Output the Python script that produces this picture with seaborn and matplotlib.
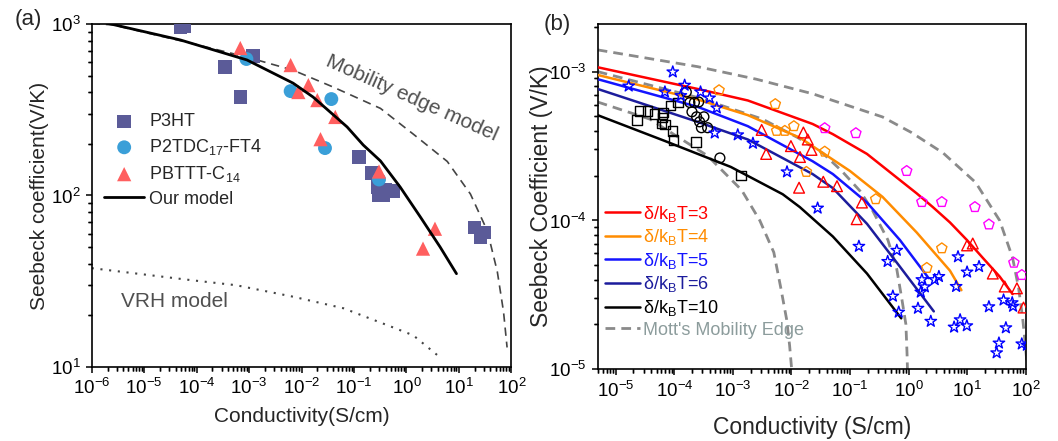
import matplotlib
matplotlib.use("Agg")
import numpy as np
import matplotlib.pyplot as plt
import matplotlib.ticker as mticker
import seaborn as sns

# ==========================================================
# DATA - panel (a)
# ==========================================================
p3ht_x = [4.9e-5, 5.8e-5, 3.5e-4, 6.8e-4, 1.2e-3, 0.126, 0.22, 0.28, 0.30, 0.36, 0.40, 0.55, 20, 26, 30]
p3ht_y = [960, 975, 561, 375, 650, 168, 135, 112, 101, 100, 108, 106, 65, 57, 61]

p2tdc_x = [8.9e-4, 6.2e-3, 0.037, 0.028, 0.30]
p2tdc_y = [625, 406, 365, 189, 124]

pbttt_x = [6.8e-4, 6.2e-3, 8.7e-3, 0.0135, 0.020, 0.023, 0.044, 0.30, 2.07, 3.5]
pbttt_y = [724, 576, 401, 440, 360, 213, 287, 138, 49, 64]

model_x = [2e-6, 4.9e-5, 9.1e-4, 6.9e-3, 0.0166, 0.074, 0.15, 0.32, 0.76, 1.84, 4.4, 9]
model_y = [1010, 807, 617, 452, 375, 251, 197, 159, 112, 75, 50, 35]

mob_x = [1e-6, 2.6e-6, 7.6e-5, 9.1e-4, 6.9e-3, 0.04, 0.32, 1.35, 6.0, 16.6, 35, 54, 71, 83]
mob_y = [1010, 986, 774, 641, 538, 429, 322, 228, 158, 102, 62, 36, 21, 13]

vrh_x = [1e-6, 8.5e-5, 5.6e-4, 6.9e-3, 0.063, 0.56, 1.35, 4.5]
vrh_y = [37.7, 32, 30, 25.7, 22, 17, 15.3, 11.3]

# ==========================================================
# DATA - panel (b)
# ==========================================================
sq_x = [2.3e-5, 2.6e-5, 3.5e-5, 4.6e-5, 6.4e-5, 6.1e-5, 6.9e-5, 8.7e-5, 1.15e-4, 9.4e-5, 9.8e-5, 2.33e-4, 1.37e-3, 6.2e-5]
sq_y = [4.73e-4, 5.45e-4, 5.45e-4, 5.2e-4, 5.3e-4, 4.5e-4, 4.4e-4, 5.9e-4, 6.2e-4, 4.0e-4, 3.47e-4, 3.37e-4, 2.0e-4, 4.9e-4]

circ_x = [1.6e-4, 1.84e-4, 2.2e-4, 2.6e-4, 2.0e-4, 2.4e-4, 2.7e-4, 3.2e-4, 2.9e-4, 3.7e-4, 6e-4]
circ_y = [7.3e-4, 6.2e-4, 6.2e-4, 6.25e-4, 5.37e-4, 4.97e-4, 4.6e-4, 4.97e-4, 4.2e-4, 4.2e-4, 2.63e-4]

star_x = [1.66e-5, 9.4e-5, 6.9e-5, 1.5e-4, 2.8e-4, 4.0e-4, 5.3e-4, 4.9e-4, 1.21e-3, 2.2e-3, 8.4e-3, 0.028, 1.29e-4,
          0.142, 0.63, 0.44, 0.54, 0.68, 1.45, 2.4, 1.69, 1.9, 1.62, 2.8, 3.3, 6.5, 7.0, 10, 16,
          6.0, 7.6, 9.9, 23.6, 42, 59, 61, 46, 35, 32, 86, 105]
star_y = [8.0e-4, 9.95e-4, 7.3e-4, 8.1e-4, 7.3e-4, 6.65e-4, 5.7e-4, 3.87e-4, 3.76e-4, 3.3e-4, 2.12e-4, 1.21e-4, 6.9e-4,
          6.7e-5, 6.3e-5, 5.3e-5, 3.1e-5, 2.42e-5, 2.57e-5, 2.1e-5, 4.0e-5, 3.58e-5, 3.3e-5, 4.0e-5, 4.2e-5, 3.6e-5, 5.7e-5, 4.5e-5, 4.9e-5,
          1.92e-5, 2.15e-5, 1.96e-5, 2.63e-5, 2.92e-5, 2.8e-5, 2.65e-5, 1.9e-5, 1.5e-5, 1.29e-5, 1.48e-5, 1.45e-5]

tri_x = [3.1e-3, 3.7e-3, 9.8e-3, 0.014, 0.016, 0.019, 0.022, 0.0135, 0.035, 0.06, 0.13, 0.16, 10, 12.5, 27.5, 44, 71, 92]
tri_y = [4.06e-4, 2.8e-4, 3.16e-4, 2.67e-4, 3.9e-4, 3.5e-4, 2.98e-4, 1.66e-4, 1.82e-4, 1.7e-4, 1.02e-4, 1.32e-4, 6.8e-5, 7.0e-5, 4.4e-5, 3.6e-5, 3.5e-5, 2.6e-5]

pent_or_x = [5.8e-4, 5.3e-3, 5.6e-3, 7.7e-3, 0.011, 0.037, 0.018, 0.275, 3.7, 2.05]
pent_or_y = [7.5e-4, 6.05e-4, 4.0e-4, 4.0e-4, 4.3e-4, 2.9e-4, 2.12e-4, 1.39e-4, 6.5e-5, 4.8e-5]

pent_mg_x = [0.037, 0.126, 0.93, 1.69, 3.7, 13.6, 23.6, 63, 86]
pent_mg_y = [4.17e-4, 3.86e-4, 2.15e-4, 1.33e-4, 1.33e-4, 1.23e-4, 9.4e-5, 5.2e-5, 4.3e-5]

d3_x = [4.9e-6, 2.5e-4, 1.8e-3, 0.023, 0.051, 0.195, 0.71, 1.38, 2.6, 5.1, 9.9, 18.6, 36, 60]
d3_y = [1.07e-3, 7.65e-4, 6.4e-4, 4.45e-4, 3.8e-4, 2.8e-4, 1.87e-4, 1.52e-4, 1.23e-4, 9.7e-5, 7.4e-5, 5.6e-5, 4.2e-5, 3.2e-5]
d4_x = [4.9e-6, 2.5e-4, 1.8e-3, 0.0139, 0.1, 0.36, 1.38, 5.1, 8.0]
d4_y = [9.5e-4, 6.5e-4, 5.1e-4, 3.6e-4, 2.15e-4, 1.44e-4, 8.3e-5, 4.6e-5, 3.4e-5]
d5_x = [4.9e-6, 2.5e-4, 1.8e-3, 0.023, 0.051, 0.195, 0.71, 2.2]
d5_y = [8.9e-4, 5.8e-4, 4.3e-4, 2.5e-4, 2.05e-4, 1.32e-4, 7.4e-5, 4.1e-5]
d6_x = [4.9e-6, 2.5e-4, 1.8e-3, 0.023, 0.051, 0.195, 0.71, 2.7]
d6_y = [7.65e-4, 4.6e-4, 3.5e-4, 2.05e-4, 1.65e-4, 9.5e-5, 4.9e-5, 2.45e-5]
d10_x = [4.9e-6, 6.9e-5, 9.2e-4, 7.1e-3, 0.0139, 0.051, 0.195, 0.75]
d10_y = [5.1e-4, 3.42e-4, 2.29e-4, 1.5e-4, 1.23e-4, 7.8e-5, 4.4e-5, 2.2e-5]

mott1_x = [4.9e-6, 2.5e-4, 2.5e-3, 0.023, 0.36, 1.12, 3.9, 14, 36, 60, 76, 89, 100, 110]
mott1_y = [1.4e-3, 1.08e-3, 8.9e-4, 7.1e-4, 4.96e-4, 3.9e-4, 2.84e-4, 1.8e-4, 1.0e-4, 5.6e-5, 3.5e-5, 2.2e-5, 1.4e-5, 8.9e-6]
mott2_x = [4.9e-6, 2.5e-4, 3.2e-3, 0.0129, 0.0347, 0.0724, 0.148, 0.245, 0.444, 0.63, 0.776, 0.902, 0.944, 0.966]
mott2_y = [1.0e-3, 6.7e-4, 4.8e-4, 3.6e-4, 2.82e-4, 2.15e-4, 1.58e-4, 1.16e-4, 7.4e-5, 4.7e-5, 2.9e-5, 2.0e-5, 1.26e-5, 8.9e-6]
mott3_x = [4.9e-6, 3.8e-5, 3.7e-4, 1.41e-3, 2.88e-3, 5.0e-3, 6.6e-3, 8.3e-3, 9.3e-3, 1.02e-2]
mott3_y = [6.25e-4, 4.8e-4, 2.72e-4, 1.6e-4, 1.0e-4, 6.1e-5, 3.5e-5, 2.15e-5, 1.45e-5, 9.5e-6]

labels_b = ["δ/k$_{B}$T=3", "δ/k$_{B}$T=4", "δ/k$_{B}$T=5", "δ/k$_{B}$T=6", "δ/k$_{B}$T=10"]
colors_b = ["#FF0000", "#FF8C00", "#1414FF", "#1C1C9C", "#000000"]

# Chart style
sns.set_style("ticks")
plt.rcParams["font.family"] = ["Liberation Sans", "DejaVu Sans"]
plt.rcParams["mathtext.fontset"] = "custom"
plt.rcParams["mathtext.rm"] = "Liberation Sans"
plt.rcParams["mathtext.it"] = "Liberation Sans:italic"
plt.rcParams["mathtext.bf"] = "Liberation Sans:bold"
plt.rcParams["mathtext.default"] = "regular"

fig = plt.figure(figsize=(10.58, 4.41), dpi=100)
ax1 = fig.add_axes([0.0867, 0.1678, 0.3966, 0.7778])
ax2 = fig.add_axes([0.5649, 0.1626, 0.4045, 0.783])

# ==========================================================
# PANEL (a)
# ==========================================================
sns.scatterplot(x=p3ht_x, y=p3ht_y, marker="s", s=95, color="#5B5B98", edgecolor="none", label="P3HT", ax=ax1, zorder=3)
sns.scatterplot(x=p2tdc_x, y=p2tdc_y, marker="o", s=100, color="#3A9FD8", edgecolor="none", label="P2TDC$_{17}$-FT4", ax=ax1, zorder=3)
sns.scatterplot(x=pbttt_x, y=pbttt_y, marker="^", s=105, color="#FF5F5F", edgecolor="none", label="PBTTT-C$_{14}$", ax=ax1, zorder=3)
sns.lineplot(x=model_x, y=model_y, color="black", linewidth=2.0, label="Our model", ax=ax1, sort=False, estimator=None, zorder=4)
sns.lineplot(x=mob_x, y=mob_y, color="#444444", linewidth=1.2, ax=ax1, sort=False, estimator=None)
ax1.lines[-1].set_linestyle((0, (5, 3.5)))
sns.lineplot(x=vrh_x, y=vrh_y, color="#444444", linewidth=1.5, ax=ax1, sort=False, estimator=None)
ax1.lines[-1].set_linestyle((0, (1, 3.2)))

ax1.set_xscale("log")
ax1.set_yscale("log")
ax1.set_xlabel("Conductivity(S/cm)", fontsize=15)
ax1.set_ylabel("Seebeck coefficient(V/K)", fontsize=15)
ax1.xaxis.set_label_coords(0.5, -0.118)
ax1.yaxis.set_label_coords(-0.103, 0.5)

ax1.text(0.762, 0.784, "Mobility edge model", transform=ax1.transAxes, fontsize=15,
         color="#505050", rotation=-24, ha="center", va="center")
ax1.text(0.196, 0.19, "VRH model", transform=ax1.transAxes, fontsize=15,
         color="#505050", ha="center", va="center")

h, l = ax1.get_legend_handles_labels()
ax1.legend(h, l, loc="upper left", bbox_to_anchor=(0.03, 0.74), frameon=False, fontsize=13,
           borderpad=0, borderaxespad=0, handlelength=2.2, handletextpad=0.3, labelspacing=0.38)

# ==========================================================
# PANEL (b)
# ==========================================================
for mx, my, lab in [(mott1_x, mott1_y, "Mott's Mobility Edge"), (mott2_x, mott2_y, None), (mott3_x, mott3_y, None)]:
    sns.lineplot(x=mx, y=my, color="#8A8A8A", linewidth=2.0, ax=ax2, sort=False, estimator=None, label=lab)
    ax2.lines[-1].set_linestyle((0, (3.5, 2.2)))

for cx, cy, lab, col in zip([d3_x, d4_x, d5_x, d6_x, d10_x], [d3_y, d4_y, d5_y, d6_y, d10_y], labels_b, colors_b):
    sns.lineplot(x=cx, y=cy, color=col, linewidth=1.8, ax=ax2, sort=False, estimator=None, label=lab, zorder=3)

sns.scatterplot(x=sq_x, y=sq_y, marker="s", s=45, facecolor="none", edgecolor="black", linewidth=1.0, ax=ax2, zorder=4)
sns.scatterplot(x=circ_x, y=circ_y, marker="o", s=50, facecolor="none", edgecolor="black", linewidth=1.0, ax=ax2, zorder=4)
sns.scatterplot(x=star_x, y=star_y, marker="*", s=75, facecolor="none", edgecolor="#0000FF", linewidth=1.0, ax=ax2, zorder=4)
sns.scatterplot(x=tri_x, y=tri_y, marker="^", s=60, facecolor="none", edgecolor="#FF0000", linewidth=1.0, ax=ax2, zorder=4)
sns.scatterplot(x=pent_or_x, y=pent_or_y, marker="p", s=60, facecolor="none", edgecolor="#FF8C00", linewidth=1.0, ax=ax2, zorder=4)
sns.scatterplot(x=pent_mg_x, y=pent_mg_y, marker="p", s=60, facecolor="none", edgecolor="#FF00FF", linewidth=1.0, ax=ax2, zorder=4)

ax2.set_xscale("log")
ax2.set_yscale("log")
ax2.set_xlabel("Conductivity (S/cm)", fontsize=16.5)
ax2.set_ylabel("Seebeck Coefficient (V/K)", fontsize=16.5)
ax2.xaxis.set_label_coords(0.5, -0.135)
ax2.yaxis.set_label_coords(-0.105, 0.5)

h, l = ax2.get_legend_handles_labels()
order = labels_b + ["Mott's Mobility Edge"]
hd = dict(zip(l, h))
leg = ax2.legend([hd[k] for k in order], order, loc="upper left", bbox_to_anchor=(0.017, 0.48),
                 frameon=False, fontsize=13, borderpad=0, borderaxespad=0, handlelength=1.95,
                 handletextpad=0.15, labelspacing=0.2)
for txt, col in zip(leg.get_texts(), colors_b + ["#8C9C9C"]):
    txt.set_color(col)

fig.text(0.0265, 0.955, "(a)", fontsize=16, ha="center", va="center")
fig.text(0.527, 0.945, "(b)", fontsize=16, ha="center", va="center")

# ==========================================================
# AXES STYLE
# ==========================================================
limits = {ax1: ((1e-6, 1e2), (10, 1000)), ax2: ((4.9e-6, 1e2), (1e-5, 2.09e-3))}
minor_locs = (10.0 ** np.arange(-8, 3)[:, None] * np.arange(2, 10)[None, :]).ravel()

for ax, (xl, yl) in limits.items():
    ax.set_xlim(*xl)
    ax.set_ylim(*yl)
    for axis in (ax.xaxis, ax.yaxis):
        axis.set_major_locator(mticker.LogLocator(base=10, numticks=100))
        axis.set_minor_locator(mticker.FixedLocator(minor_locs))
        axis.set_minor_formatter(mticker.NullFormatter())
    for sp in ax.spines.values():
        sp.set_color("black")
        sp.set_linewidth(1.2)
    ax.tick_params(which="major", direction="out", length=4.5, width=1.1, labelsize=13.5, colors="black")
    ax.tick_params(which="minor", direction="out", length=2.8, width=1.0, colors="black")

    # minor tick marks, also drawn as short segments so they always render
    bbox = ax.get_position()
    hpx = bbox.height * fig.get_figheight() * fig.dpi
    wpx = bbox.width * fig.get_figwidth() * fig.dpi
    tick_px = 2.8 * fig.dpi / 72.0
    xs = minor_locs[(minor_locs > xl[0]) & (minor_locs < xl[1])]
    ys = minor_locs[(minor_locs > yl[0]) & (minor_locs < yl[1])]
    ax.vlines(xs, -tick_px / hpx, 0, transform=ax.get_xaxis_transform(), colors="black",
              linewidth=1.0, clip_on=False, zorder=5)
    ax.hlines(ys, -tick_px / wpx, 0, transform=ax.get_yaxis_transform(), colors="black",
              linewidth=1.0, clip_on=False, zorder=5)
    ax.set_xlim(*xl)
    ax.set_ylim(*yl)

fig.savefig("out.png", dpi=100)
